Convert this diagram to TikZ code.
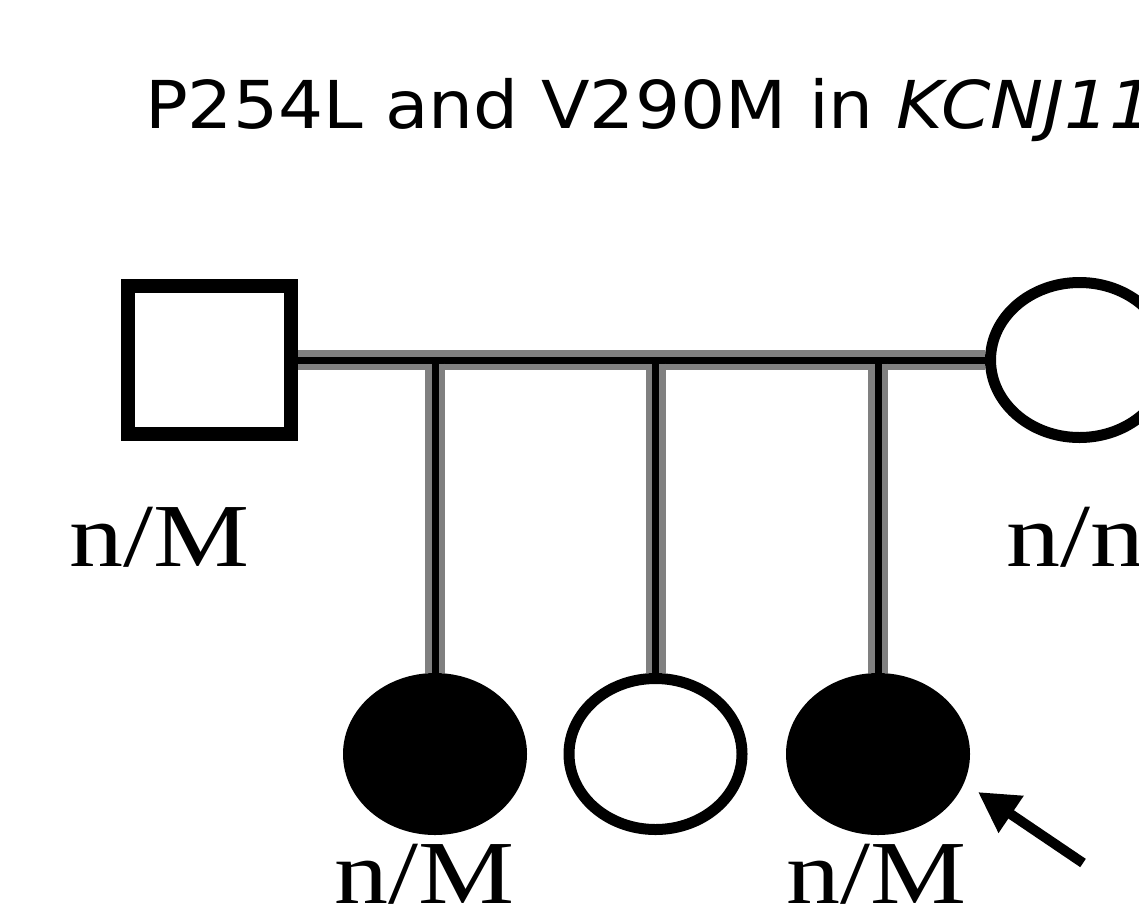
\documentclass[tikz,border=0pt]{standalone}
\usepackage{graphicx}
\usepackage{fontspec}
\setmainfont{Liberation Serif}
\newfontfamily\titlefont{DejaVu Sans}
\usepackage{tikz}
\usetikzlibrary{arrows.meta,shapes.geometric}

\tikzset{
  male/.style={draw=black,line width=14pt,line join=miter,minimum width=163pt,minimum height=148pt,inner sep=0pt},
  female/.style={ellipse,draw=black,line width=11pt,minimum width=173pt,minimum height=151pt,inner sep=0pt},
  affected/.style={female,fill=black},
  unaffected/.style={female,fill=white},
  kinline/.style={draw=black!50,line width=6.5pt,double=black,double distance=7pt},
  genotype/.style={anchor=base west,inner sep=0pt,font=\fontsize{90}{90}\selectfont},
}

\begin{document}
\begin{tikzpicture}[x=1pt,y=-1pt,>=Stealth]
  \useasboundingbox (0,0) rectangle (1139,908);
  \clip (0,0) rectangle (1139,908);
  \node[anchor=base west,inner sep=0pt,font=\titlefont\fontsize{66}{66}\selectfont] (title) at (145,128) {\scalebox{1.075}[1]{P254L and V290M in \textit{KCNJ11}}};
  \node[male] (father) at (209.5,360) {};
  \node[unaffected,minimum width=178pt,minimum height=155pt] (mother) at (1079.5,360) {};
  \node[affected] (child1) at (435,754) {};
  \node[unaffected] (child2) at (655.5,754) {};
  \node[affected] (proband) at (878,754) {};
  \draw[kinline] (father.east) -- (mother.west);
  \draw[kinline,shorten <=3.5pt] (child1.north |- father.east) -- (child1.north);
  \draw[kinline,shorten <=3.5pt] (child2.north |- father.east) -- (child2.north);
  \draw[kinline,shorten <=3.5pt] (proband.north |- father.east) -- (proband.north);
  \coordinate (arrowtail) at (1083,863);
  \coordinate (arrowtip) at (978,792);
  \draw[line width=10pt,-{Triangle[length=40pt,width=42pt]}] (arrowtail) -- (arrowtip);
  \node[genotype] (fathergt) at (69,566) {\scalebox{1.2}[1]{n/M}};
  \node[genotype] (mothergt) at (1006,566) {\scalebox{1.2}[1]{n/n}};
  \node[genotype] (child1gt) at (334,903) {\scalebox{1.2}[1]{n/M}};
  \node[genotype] (probandgt) at (786,903) {\scalebox{1.2}[1]{n/M}};
\end{tikzpicture}
\end{document}
